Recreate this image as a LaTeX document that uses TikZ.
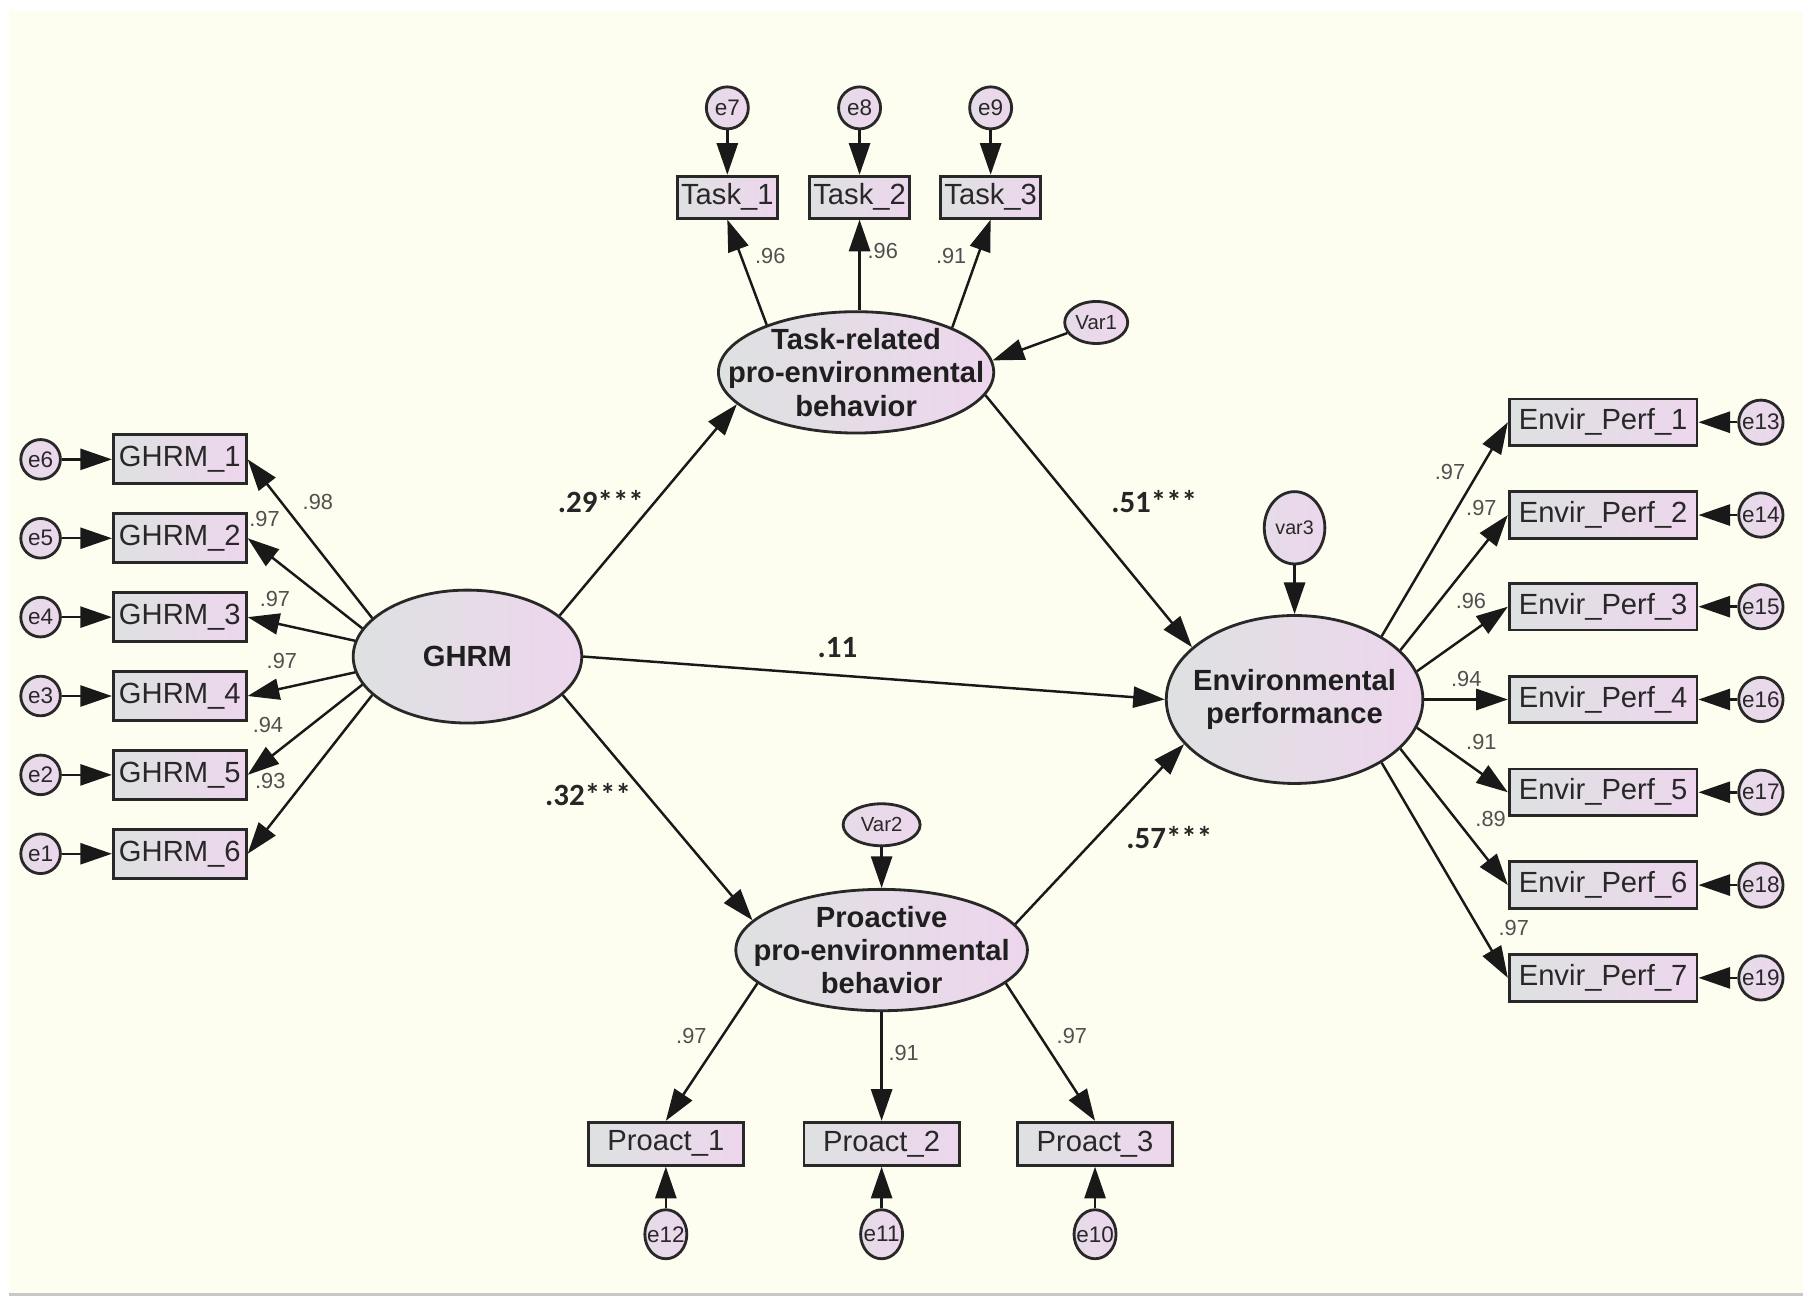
\documentclass[tikz,border=0pt]{standalone}
\usepackage{fontspec}
\setmainfont{Liberation Sans}
\newfontfamily\coeffont{Carlito}
\usetikzlibrary{shapes.geometric}
\usetikzlibrary{arrows.meta}
\definecolor{bgcream}{RGB}{253,254,240}
\definecolor{fillgray}{RGB}{222,225,225}
\definecolor{fillpink}{RGB}{237,214,237}
\definecolor{inkgray}{RGB}{40,40,40}
\definecolor{lblgray}{RGB}{80,80,80}
\definecolor{rulegray}{RGB}{200,200,200}
\newcommand{\zw}[1]{\makebox[0pt]{#1}}

\begin{document}
\begin{tikzpicture}[x=0.0116cm,y=-0.0116cm,
  obs/.style={rectangle,draw=inkgray,line width=0.8pt,left color=fillgray,right color=fillpink,text=inkgray,inner sep=0pt,font=\fontsize{8.3}{10}\selectfont},
  lat/.style={ellipse,draw=inkgray,line width=0.8pt,left color=fillgray,right color=fillpink,inner sep=0pt},
  lattxt/.style={align=center,inner sep=0pt,text=black!88,font=\fontsize{8.3}{9.5}\selectfont\bfseries},
  err/.style 2 args={ellipse,draw=inkgray,line width=0.8pt,left color=fillgray!50!fillpink,right color=fillpink,text=inkgray,inner sep=0pt,minimum width=#1,minimum height=#2,font=\fontsize{6.4}{7}\selectfont},
  ld/.style={inner sep=0pt,text=lblgray,font=\fontsize{6.2}{7}\selectfont},
  pc/.style={inner sep=0pt,text=black!85,font=\coeffont\bfseries\fontsize{8.8}{10}\selectfont},
  arr/.style={line width=0.7pt,draw=black!90,-{Triangle[length=9pt,width=6pt]}}]

  \useasboundingbox (0,0) rectangle (1568.1,1128.4);
  \fill[white] (0,0) rectangle (1568.1,1128.4);
  \fill[bgcream] (8,9.5) rectangle (1554,1115);
  \draw[rulegray,line width=1pt] (8,1116) -- (1554,1116);

  % GHRM block
  \node[lat,minimum width=2.285cm,minimum height=1.329cm] (ghrm) at (403,566) {};
  \node[lattxt] (ghrm-t) at (ghrm) {GHRM};
  \node[obs,minimum width=1.329cm,minimum height=0.49cm] (g1) at (155,396) {GHRM\_1};
  \node[obs,minimum width=1.329cm,minimum height=0.49cm] (g2) at (155,464) {GHRM\_2};
  \node[obs,minimum width=1.329cm,minimum height=0.49cm] (g3) at (155,532) {GHRM\_3};
  \node[obs,minimum width=1.329cm,minimum height=0.49cm] (g4) at (155,600) {GHRM\_4};
  \node[obs,minimum width=1.329cm,minimum height=0.49cm] (g5) at (155,668) {GHRM\_5};
  \node[obs,minimum width=1.329cm,minimum height=0.49cm] (g6) at (155,736) {GHRM\_6};
  \node[err={0.396cm}{0.396cm}] (e6) at (35,396) {\zw{e6}};
  \node[err={0.396cm}{0.396cm}] (e5) at (35,464) {\zw{e5}};
  \node[err={0.396cm}{0.396cm}] (e4) at (35,532) {\zw{e4}};
  \node[err={0.396cm}{0.396cm}] (e3) at (35,600) {\zw{e3}};
  \node[err={0.396cm}{0.396cm}] (e2) at (35,668) {\zw{e2}};
  \node[err={0.396cm}{0.396cm}] (e1) at (35,736) {\zw{e1}};

  % task-related block
  \node[lat,minimum width=2.752cm,minimum height=1.213cm] (task) at (738,321) {};
  \node[lattxt] (task-t) at (task) {Task-related\\pro-environmental\\behavior};
  \node[obs,minimum width=1.003cm,minimum height=0.42cm] (t1) at (627,170) {Task\_1};
  \node[obs,minimum width=1.003cm,minimum height=0.42cm] (t2) at (741,170) {Task\_2};
  \node[obs,minimum width=1.003cm,minimum height=0.42cm] (t3) at (854,170) {Task\_3};
  \node[err={0.42cm}{0.42cm}] (e7) at (627,93) {\zw{e7}};
  \node[err={0.42cm}{0.42cm}] (e8) at (741,93) {\zw{e8}};
  \node[err={0.42cm}{0.42cm}] (e9) at (854,93) {\zw{e9}};
  \node[err={0.63cm}{0.42cm},font=\fontsize{5.8}{7}\selectfont] (var1) at (945,278) {\zw{Var1}};

  % environmental performance block
  \node[lat,minimum width=2.565cm,minimum height=1.679cm] (env) at (1116,603) {};
  \node[lattxt] (env-t) at (env) {Environmental\\performance};
  \node[err={0.606cm}{0.723cm},font=\fontsize{5.6}{7}\selectfont] (var3) at (1116,455) {\zw{var3}};
  \node[obs,minimum width=1.877cm,minimum height=0.466cm] (ep1) at (1382,364) {Envir\_Perf\_1};
  \node[obs,minimum width=1.877cm,minimum height=0.466cm] (ep2) at (1382,444) {Envir\_Perf\_2};
  \node[obs,minimum width=1.877cm,minimum height=0.466cm] (ep3) at (1382,523) {Envir\_Perf\_3};
  \node[obs,minimum width=1.877cm,minimum height=0.466cm] (ep4) at (1382,603) {Envir\_Perf\_4};
  \node[obs,minimum width=1.877cm,minimum height=0.466cm] (ep5) at (1382,683) {Envir\_Perf\_5};
  \node[obs,minimum width=1.877cm,minimum height=0.466cm] (ep6) at (1382,763) {Envir\_Perf\_6};
  \node[obs,minimum width=1.877cm,minimum height=0.466cm] (ep7) at (1382,843) {Envir\_Perf\_7};
  \node[err={0.443cm}{0.443cm}] (e13) at (1518,364) {\zw{e13}};
  \node[err={0.443cm}{0.443cm}] (e14) at (1518,444) {\zw{e14}};
  \node[err={0.443cm}{0.443cm}] (e15) at (1518,523) {\zw{e15}};
  \node[err={0.443cm}{0.443cm}] (e16) at (1518,603) {\zw{e16}};
  \node[err={0.443cm}{0.443cm}] (e17) at (1518,683) {\zw{e17}};
  \node[err={0.443cm}{0.443cm}] (e18) at (1518,763) {\zw{e18}};
  \node[err={0.443cm}{0.443cm}] (e19) at (1518,843) {\zw{e19}};

  % proactive block
  \node[lat,minimum width=2.915cm,minimum height=1.213cm] (pro) at (760,819) {};
  \node[lattxt] (pro-t) at (pro) {Proactive\\pro-environmental\\behavior};
  \node[err={0.77cm}{0.42cm},font=\fontsize{5.8}{7}\selectfont] (var2) at (760,711) {\zw{Var2}};
  \node[obs,minimum width=1.551cm,minimum height=0.431cm] (p1) at (574,986) {Proact\_1};
  \node[obs,minimum width=1.551cm,minimum height=0.431cm] (p2) at (760,986) {Proact\_2};
  \node[obs,minimum width=1.551cm,minimum height=0.431cm] (p3) at (944,986) {Proact\_3};
  \node[err={0.42cm}{0.49cm}] (e12) at (574,1064) {\zw{e12}};
  \node[err={0.42cm}{0.49cm}] (e11) at (760,1064) {\zw{e11}};
  \node[err={0.42cm}{0.49cm}] (e10) at (944,1064) {\zw{e10}};

  % connectors
  \draw[arr] (e6) -- (g1);
  \draw[arr] (e5) -- (g2);
  \draw[arr] (e4) -- (g3);
  \draw[arr] (e3) -- (g4);
  \draw[arr] (e2) -- (g5);
  \draw[arr] (e1) -- (g6);
  \draw[arr] (ghrm.158) -- (g1.east);
  \draw[arr] (ghrm.165) -- (g2.east);
  \draw[arr] (ghrm.172) -- (g3.east);
  \draw[arr] (ghrm.188) -- (g4.east);
  \draw[arr] (ghrm.195) -- (g5.east);
  \draw[arr] (ghrm.202) -- (g6.east);

  \draw[arr] (e7) -- (t1);
  \draw[arr] (e8) -- (t2);
  \draw[arr] (e9) -- (t3);
  \draw[arr] (task.152) -- (t1.south);
  \draw[arr] (t2.south |- task.north) -- (t2.south);
  \draw[arr] (task.25) -- (t3.south);
  \draw[arr] (var1) -- (task.5);

  \draw[arr] (ghrm.24) -- (task.195);
  \draw[arr] (ghrm.east) -- (env.west);
  \draw[arr] (ghrm.-22) -- (pro.167);
  \draw[arr] (task.-10) -- (env.153);
  \draw[arr] (pro.11) -- (env.202);
  \draw[arr] (var3) -- (env);
  \draw[arr] (var2) -- (pro);

  \draw[arr] (env.36) -- (ep1.west);
  \draw[arr] (env.25) -- (ep2.west);
  \draw[arr] (env.13) -- (ep3.west);
  \draw[arr] (env.0) -- (ep4.west);
  \draw[arr] (env.-13) -- (ep5.west);
  \draw[arr] (env.-25) -- (ep6.west);
  \draw[arr] (env.-36) -- (ep7.west);
  \draw[arr] (e13) -- (ep1);
  \draw[arr] (e14) -- (ep2);
  \draw[arr] (e15) -- (ep3);
  \draw[arr] (e16) -- (ep4);
  \draw[arr] (e17) -- (ep5);
  \draw[arr] (e18) -- (ep6);
  \draw[arr] (e19) -- (ep7);

  \draw[arr] (pro.195) -- (p1.north);
  \draw[arr] (pro.270) -- (p2.north);
  \draw[arr] (pro.-15) -- (p3.north);
  \draw[arr] (e12) -- (p1);
  \draw[arr] (e11) -- (p2);
  \draw[arr] (e10) -- (p3);

  % loadings
  \node[ld] (lg1) at (274,433) {.98};
  \node[ld] (lg2) at (228,447) {.97};
  \node[ld] (lg3) at (237,516) {.97};
  \node[ld] (lg4) at (243,570) {.97};
  \node[ld] (lg5) at (231,625) {.94};
  \node[ld] (lg6) at (233,673) {.93};
  \node[ld] (lt1) at (664,221) {.96};
  \node[ld] (lt2) at (761,216) {.96};
  \node[ld] (lt3) at (820,221) {.91};
  \node[ld] (le1) at (1250,407) {.97};
  \node[ld] (le2) at (1277,438) {.97};
  \node[ld] (le3) at (1268,518) {.96};
  \node[ld] (le4) at (1264,585) {.94};
  \node[ld] (le5) at (1277,640) {.91};
  \node[ld] (le6) at (1285,706) {.89};
  \node[ld] (le7) at (1305,800) {.97};
  \node[ld] (lp1) at (596,893) {.97};
  \node[ld] (lp2) at (779,908) {.91};
  \node[ld] (lp3) at (924,893) {.97};

  % structural paths
  \node[pc] (c-gt) at (518,432) {.29***};
  \node[pc] (c-ge) at (722,558) {.11};
  \node[pc] (c-gp) at (507,685) {.32***};
  \node[pc] (c-te) at (995,432) {.51***};
  \node[pc] (c-pe) at (1008,722) {.57***};
\end{tikzpicture}
\end{document}
